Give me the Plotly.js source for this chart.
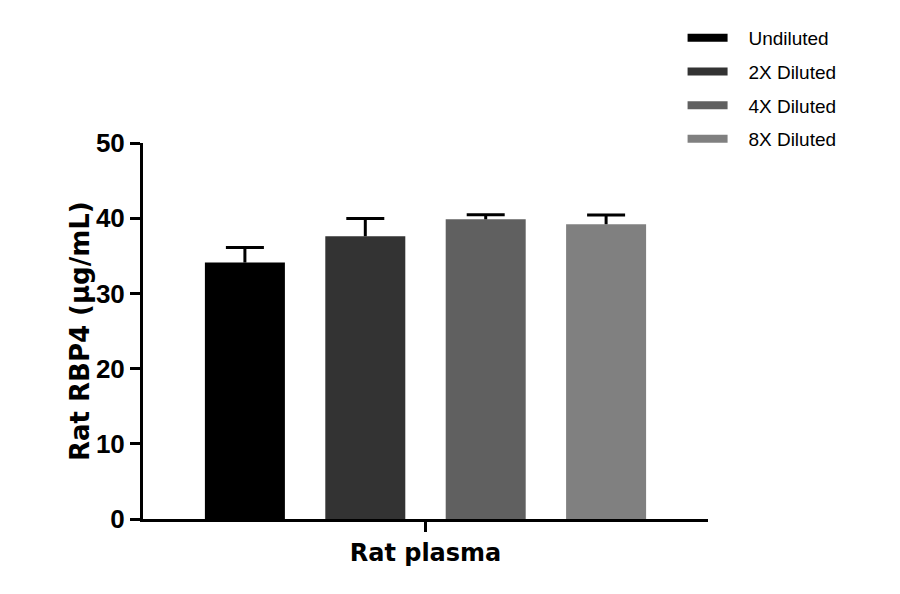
<!DOCTYPE html>
<html>
<head>
<meta charset="utf-8">
<script src="https://cdn.plot.ly/plotly-3.0.1.min.js"></script>
<style>
  html, body { margin: 0; padding: 0; background: #fff; }
  #chart { width: 900px; height: 594px; }
</style>
</head>
<body>
<div id="chart"></div>
<script>
// Values
const sample = ['Rat plasma'];
const dilutions = ['Undiluted', '2X Diluted', '4X Diluted', '8X Diluted'];
const means = [34.1, 37.6, 39.85, 39.2];
const sd_up = [2.0, 2.35, 0.62, 1.22];
const colors = ['#000000', '#333333', '#606060', '#808080'];
const y_ticks = [0, 10, 20, 30, 40, 50];

// Bar placement inside the single category (category units)
const bar_slot = 0.2131;
const bar_width = 0.1416;

const config = { responsive: false, displayModeBar: false };
const label_pad = '\u00a0\u00a0\u00a0'; // pushes legend text away from the swatch

var chart_data = [];

dilutions.forEach((name, i) => {
  var offset = (i - 1.5) * bar_slot - bar_width / 2;
  // Visible bar with the stem of its error bar (no caps)
  chart_data.push({
    x: sample,
    y: [means[i]],
    name: name,
    type: 'bar',
    offset: offset,
    width: bar_width,
    showlegend: false,
    marker: { color: colors[i], line: { width: 0 } },
    error_y: {
      type: 'data',
      symmetric: false,
      array: [sd_up[i]],
      arrayminus: [0],
      color: '#000000',
      thickness: 3,
      width: 0,
    },
  });
  // Invisible bar carrying only the upper cap at mean + SD
  chart_data.push({
    x: sample,
    y: [means[i] + sd_up[i]],
    type: 'bar',
    offset: offset,
    width: bar_width,
    showlegend: false,
    hoverinfo: 'skip',
    marker: { color: 'rgba(0,0,0,0)', line: { width: 0 } },
    error_y: {
      type: 'data',
      array: [0],
      color: '#000000',
      thickness: 3,
      width: 19,
    },
  });
});

// Legend entries drawn as thick lines, like the reference
dilutions.forEach((name, i) =>
  chart_data.push({
    x: [null],
    y: [null],
    name: label_pad + name,
    type: 'scatter',
    mode: 'lines',
    line: { color: colors[i], width: 8 },
    legendgroup: 'g' + i,
    hoverinfo: 'skip',
  })
);

var chart_layout = {
  width: 900,
  height: 594,
  margin: { l: 143, r: 192, t: 143, b: 75 },
  paper_bgcolor: '#ffffff',
  plot_bgcolor: '#ffffff',
  barmode: 'overlay',
  showlegend: true,
  legend: {
    x: 0.955,
    y: 1.33,
    xanchor: 'left',
    yanchor: 'top',
    tracegroupgap: 6,
    itemwidth: 40,
    font: { family: 'Liberation Sans, Arial, sans-serif', size: 19, color: '#000000' },
  },
  xaxis: {
    type: 'category',
    range: [-0.5, 0.5],
    showline: true,
    linecolor: '#000000',
    linewidth: 3,
    ticks: 'outside',
    ticklen: 10,
    tickwidth: 3,
    tickcolor: '#000000',
    showgrid: false,
    zeroline: false,
    tickfont: { family: 'DejaVu Sans, sans-serif', size: 24, color: '#000000', weight: 'bold' },
  },
  yaxis: {
    range: [0, 50],
    tickvals: y_ticks,
    ticktext: y_ticks.map(String),
    showline: true,
    linecolor: '#000000',
    linewidth: 3,
    ticks: 'outside',
    ticklen: 10,
    tickwidth: 3,
    tickcolor: '#000000',
    showgrid: false,
    zeroline: false,
    tickfont: { family: 'Liberation Sans, Arial, sans-serif', size: 26, color: '#000000', weight: 'bold' },
  },
  annotations: [
    {
      // y axis title, placed closer to the tick labels than Plotly's standoff allows
      text: 'Rat RBP4 (µg/mL)',
      textangle: -90,
      xref: 'paper',
      yref: 'paper',
      x: 0,
      y: 0.5,
      xanchor: 'center',
      yanchor: 'middle',
      xshift: -63,
      showarrow: false,
      font: { family: 'DejaVu Sans, sans-serif', size: 26, color: '#000000', weight: 'bold' },
    },
  ],
};

Plotly.newPlot('chart', chart_data, chart_layout, config);
</script>
</body>
</html>
